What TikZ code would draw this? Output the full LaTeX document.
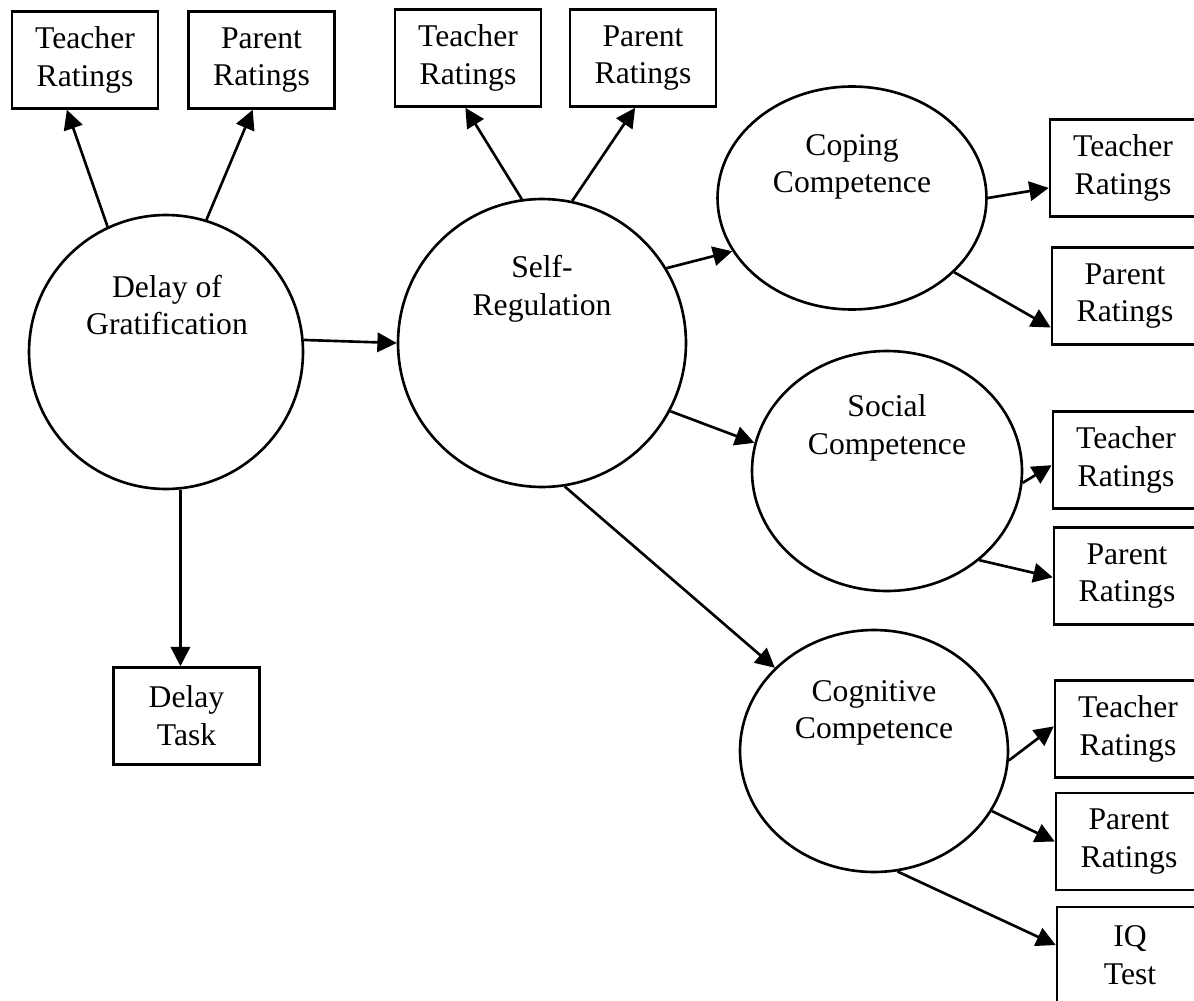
\documentclass[tikz,border=0pt]{standalone}
\usepackage{fontspec}
\setmainfont{Liberation Serif}
\usetikzlibrary{arrows.meta,shapes.geometric}

\begin{document}
\begin{tikzpicture}[x=0.02cm,y=-0.02cm,>={Triangle[length=11pt,width=11pt]},
  font=\fontsize{18}{21.5}\selectfont,line width=1.5pt,
  obs/.style={draw,rectangle,align=center,inner sep=0pt,minimum width=2.92cm,minimum height=1.94cm},
  lat/.style={draw,ellipse,inner sep=0pt},
  lbl/.style={align=center,inner sep=0pt}]
\fill[white] (0,0) rectangle (1194,1001);
\useasboundingbox (0,0) rectangle (1194,1001);
\clip (0,0) rectangle (1194,1001);
% latent variables
\node[lat,minimum width=5.48cm,minimum height=5.48cm] (dog) at (166,352) {};
\node[lat,minimum width=5.76cm,minimum height=5.76cm] (sr) at (542,343) {};
\node[lat,minimum width=5.38cm,minimum height=4.46cm] (cop) at (852,198) {};
\node[lat,minimum width=5.4cm,minimum height=4.8cm] (soc) at (887,471) {};
\node[lat,minimum width=5.36cm,minimum height=4.84cm] (cog) at (874,751) {};
\node[lbl] (dogtxt) at (167,305) {Delay of\\Gratification};
\node[lbl] (srtxt) at (542,289) {Self-\\Regulation};
\node[lbl] (coptxt) at (852,167) {Coping\\Competence};
\node[lbl] (soctxt) at (887,428) {Social\\Competence};
\node[lbl] (cogtxt) at (874,713) {Cognitive\\Competence};
% indicators
\node[obs] (tra) at (85,60) {Teacher\\Ratings};
\node[obs] (pra) at (261.5,60) {Parent\\Ratings};
\node[obs] (trb) at (468,58) {Teacher\\Ratings};
\node[obs] (prb) at (643,58) {Parent\\Ratings};
\node[obs] (dtask) at (186.5,716) {Delay\\Task};
\node[obs] (trc) at (1123,168) {Teacher\\Ratings};
\node[obs] (prc) at (1125,296) {Parent\\Ratings};
\node[obs] (trd) at (1126,460) {Teacher\\Ratings};
\node[obs] (prd) at (1127,576) {Parent\\Ratings};
\node[obs] (tre) at (1128,729) {Teacher\\Ratings};
\node[obs] (pre) at (1129,841.5) {Parent\\Ratings};
\node[obs] (iq) at (1130,955.5) {IQ\\Test};
% paths
\draw[->] (dog.115) -- (tra.250);
\draw[->] (dog.73) -- (pra.-100);
\draw[->] (dog.5) -- (sr.180);
\draw[->] (dog.-84) -- (dog.-84 |- dtask.north);
\draw[->] (sr.98) -- (trb.-93);
\draw[->] (sr.78) -- (prb.-99);
\draw[->] (sr.31) -- (cop.204);
\draw[->] (sr.-28) -- (soc.168);
\draw[->] (sr.-81) -- (cog.140);
\draw[->] (cop.0) -- (trc.195);
\draw[->] (cop.-36) -- (prc.203);
\draw[->] (soc.-5) -- (trd.184);
\draw[->] (soc.-44) -- (prd.181);
\draw[->] (cog.-4) -- (tre.178);
\draw[->] (cog.-27) -- (pre.180);
\draw[->] (cog.-79) -- (iq.172);
\end{tikzpicture}
\end{document}
